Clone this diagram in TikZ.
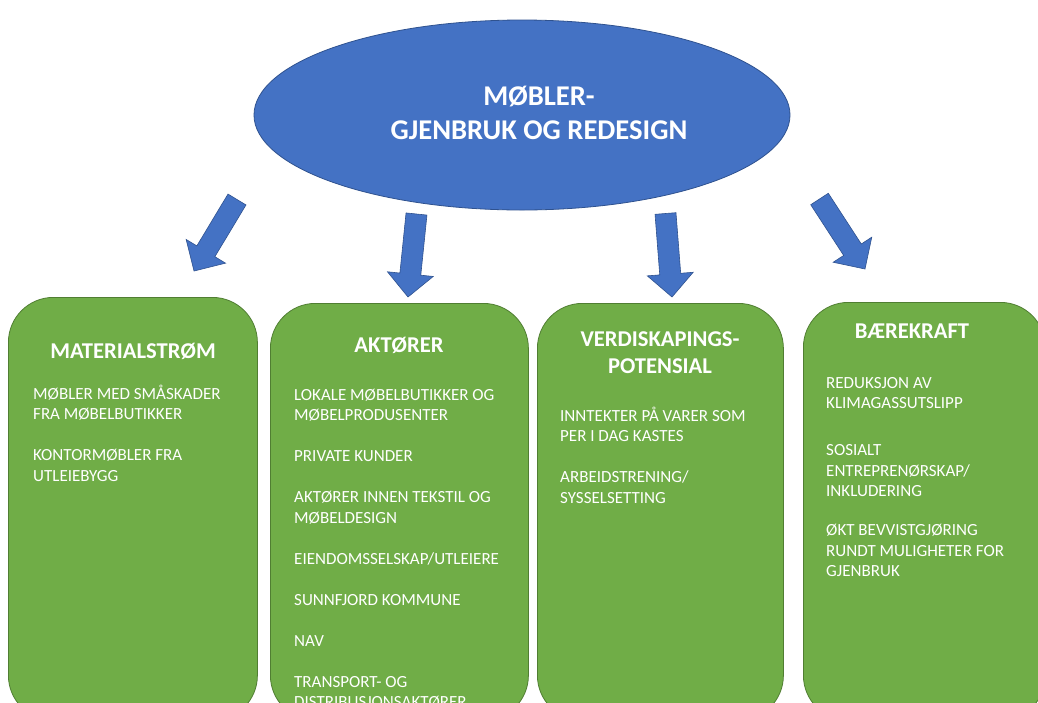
\documentclass[tikz,border=0pt]{standalone}
\usepackage{fontspec}
\setmainfont{Carlito}
\usetikzlibrary{shapes.geometric,calc}

\definecolor{hubblue}{HTML}{4472C4}
\definecolor{hubline}{HTML}{2F528F}
\definecolor{boxgreen}{HTML}{70AD47}
\definecolor{boxline}{HTML}{507E32}

% multi-line nodes sit on the baseline of their last line
\tikzset{
  hubshape/.style={ellipse, fill=hubblue, draw=hubline, line width=0.8pt,
    minimum width=536pt, minimum height=190pt, inner sep=0pt},
  arrowbody/.style={fill=hubblue, draw=hubline, line width=0.6pt, line join=miter},
  greenbox/.style={rectangle, rounded corners=45pt, fill=boxgreen, draw=boxline,
    line width=0.8pt, inner sep=0pt},
  hubtext/.style={text=white, font=\bfseries\fontsize{28.6}{34}\selectfont,
    align=center, inner sep=0pt, anchor=base},
  boxtitle/.style={text=white, font=\bfseries\fontsize{22.6}{27}\selectfont,
    align=center, inner sep=0pt, anchor=base},
  boxbody/.style={text=white, font=\fontsize{17}{20.5}\selectfont,
    align=left, inner sep=0pt, anchor=base west},
}

% block arrow from tail centre #1 to tip #2
\newcommand{\bigarrow}[2]{%
  \coordinate (#1-h) at ($(#2)!23pt!(#1)$);
  \draw[arrowbody]
    ($(#1)!10.5pt!90:(#2)$) -- ($(#1-h)!10.5pt!-90:(#1)$) --
    ($(#1-h)!23pt!-90:(#1)$) -- (#2) -- ($(#1-h)!23pt!90:(#1)$) --
    ($(#1-h)!10.5pt!90:(#1)$) -- ($(#1)!10.5pt!-90:(#2)$) -- cycle;}

\begin{document}
\begin{tikzpicture}[x=1pt, y=-1pt]
  \useasboundingbox (0,0) rectangle (1038,702);
  \clip (0,0) rectangle (1038,702);
  \fill[white] (0,0) rectangle (1038,702);

  % central ellipse
  \node[hubshape] (hub) at (522,115) {};
  \node[hubtext] (hublabel) at (539,139) {MØBLER-\\GJENBRUK OG REDESIGN};

  % arrows from the ellipse to the four boxes
  \coordinate (t1) at (237,199.5);   \coordinate (p1) at (194,271);
  \coordinate (t2) at (416.5,214);   \coordinate (p2) at (408,297);
  \coordinate (t3) at (665.5,213.5); \coordinate (p3) at (672,297);
  \coordinate (t4) at (819.5,199);   \coordinate (p4) at (865,269);
  \bigarrow{t1}{p1}
  \bigarrow{t2}{p2}
  \bigarrow{t3}{p3}
  \bigarrow{t4}{p4}

  % green boxes (they run past the lower edge)
  \node[greenbox, minimum width=249pt, minimum height=423pt, anchor=north west] (mat) at (8,297) {};
  \node[greenbox, minimum width=258pt, minimum height=417pt, anchor=north west] (akt) at (270,303) {};
  \node[greenbox, minimum width=246pt, minimum height=417pt, anchor=north west] (ver) at (537,303) {};
  \node[greenbox, minimum width=242pt, minimum height=418pt, anchor=north west] (bae) at (803,302) {};

  % titles
  \node[boxtitle] (mattitle) at (133,358) {MATERIALSTRØM};
  \node[boxtitle] (akttitle) at (399,352) {AKTØRER};
  \node[boxtitle] (vertitle) at (660,373) {VERDISKAPINGS-\\POTENSIAL};
  \node[boxtitle] (baetitle) at (912,338) {BÆREKRAFT};

  % contents
  \node[boxbody] (matbody) at (33,481) {MØBLER MED SMÅSKADER\\FRA MØBELBUTIKKER\\[20.5pt]
    KONTORMØBLER FRA\\UTLEIEBYGG};
  \node[boxbody] (aktbody) at (294,707.5) {LOKALE MØBELBUTIKKER OG\\MØBELPRODUSENTER\\[20.5pt]
    PRIVATE KUNDER\\[20.5pt]
    AKTØRER INNEN TEKSTIL OG\\MØBELDESIGN\\[20.5pt]
    EIENDOMSSELSKAP/UTLEIERE\\[20.5pt]
    SUNNFJORD KOMMUNE\\[20.5pt]
    NAV\\[20.5pt]
    TRANSPORT- OG\\DISTRIBUSJONSAKTØRER};
  \node[boxbody] (verbody) at (560,503) {INNTEKTER PÅ VARER SOM\\PER I DAG KASTES\\[20.5pt]
    ARBEIDSTRENING/\\SYSSELSETTING};
  \node[boxbody] (baebody) at (826,576.5) {REDUKSJON AV\\KLIMAGASSUTSLIPP\\[26.5pt]
    SOSIALT\\ENTREPRENØRSKAP/\\INKLUDERING\\[18.5pt]
    ØKT BEVVISTGJØRING\\RUNDT MULIGHETER FOR\\GJENBRUK};
\end{tikzpicture}
\end{document}
